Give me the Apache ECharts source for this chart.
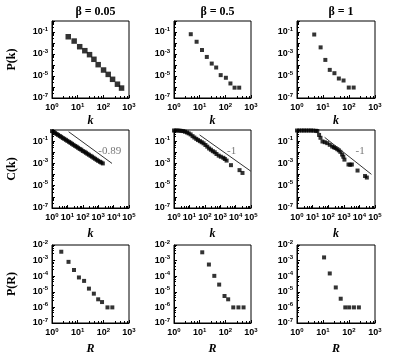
<!DOCTYPE html>
<html>
<head>
<meta charset="utf-8">
<script src="https://cdn.jsdelivr.net/npm/echarts@6/dist/echarts.min.js"></script>
<style>
html, body { margin: 0; padding: 0; background: #fff; }
#main { width: 394px; height: 356px; }
</style>
</head>
<body>
<div id="main"></div>
<script>
// column / row labels
var betaTitles = ['β = 0.05', 'β = 0.5', 'β = 1'];
var rowNames = ['P(k)', 'C(k)', 'P(R)'];
var rowXNames = ['k', 'k', 'R'];
var xTickExps = [[0, 1, 2, 3], [0, 1, 2, 3, 4, 5], [0, 1, 2, 3]];
var yTickExps = [[-7, -5, -3, -1], [-7, -5, -3, -1], [-7, -6, -5, -4, -3, -2]];

// row 1: degree distribution P(k)
var pk005 = [[4.3, 0.037], [7.3, 0.015], [12, 0.0046], [19, 0.002], [29, 0.00087], [43, 0.00033],
  [63, 0.000107], [102, 3.5e-5], [155, 1.4e-5], [229, 5e-6], [355, 1.8e-6], [513, 8e-7]];
var pk05 = [[4.5, 0.063], [7.6, 0.013], [12.3, 0.0023], [19, 0.00054], [29.5, 0.000135], [44, 5.9e-5],
  [66, 1.2e-5], [105, 6.9e-6], [158, 2.1e-6], [229, 8.7e-7], [347, 8.7e-7]];
var pk1 = [[4.6, 0.059], [8.1, 0.004], [12.3, 0.00029], [18.2, 3.6e-5], [27.5, 1.8e-5], [40.7, 5.9e-6],
  [61.7, 3.9e-6], [98, 8.9e-7], [151, 8.9e-7]];

// row 2: clustering C(k)
var ck005 = [[1, 0.8], [1.3, 0.65], [1.6, 0.53], [2, 0.44], [2.5, 0.36], [3.2, 0.29], [4, 0.24], [5, 0.19],
  [6.3, 0.16], [8, 0.13], [10, 0.105], [13, 0.085], [16, 0.07], [20, 0.057], [25, 0.046], [32, 0.037],
  [40, 0.031], [50, 0.025], [63, 0.02], [80, 0.017], [100, 0.013], [130, 0.011], [160, 0.009],
  [200, 0.0073], [250, 0.006], [320, 0.0048], [400, 0.004], [500, 0.0032], [630, 0.0026],
  [800, 0.0021], [1000, 0.0017], [1300, 0.0014], [1600, 0.0012], [2000, 0.001]];
var ck05 = [[1, 0.9], [1.3, 0.9], [1.7, 0.9], [2.3, 0.88], [3, 0.83], [4, 0.8], [5.2, 0.7], [7, 0.6],
  [9, 0.5], [12, 0.4], [16, 0.28], [21, 0.21], [28, 0.16], [36, 0.125], [48, 0.1], [63, 0.08],
  [83, 0.063], [110, 0.045], [145, 0.032], [190, 0.022], [250, 0.017], [330, 0.0126], [440, 0.01],
  [575, 0.007], [800, 0.005], [1100, 0.004], [1600, 0.0032], [2000, 0.0025], [2600, 0.0018],
  [5000, 0.0007], [18000, 0.00025], [28000, 0.00014]];
var ck1 = [[1, 0.9], [1.4, 0.9], [2, 0.9], [2.8, 0.9], [4, 0.9], [5.6, 0.9], [8, 0.9], [11, 0.88],
  [16, 0.85], [20, 0.8], [26, 0.36], [32, 0.2], [43, 0.093], [60, 0.08], [87, 0.066], [126, 0.047],
  [180, 0.033], [235, 0.028], [295, 0.024], [380, 0.019], [480, 0.015], [600, 0.011], [780, 0.0063],
  [930, 0.004], [1100, 0.0022], [2000, 0.0008], [2600, 0.00076], [3300, 0.0008], [7600, 0.00023],
  [23000, 7.4e-5], [30000, 5.4e-5]];

// fitted slopes in the C(k) row
var fit005 = [[12, 0.7], [7900, 0.001]];
var fit05 = [[46, 0.36], [98000, 0.0002]];
var fit1 = [[59, 0.22], [59000, 0.000105]];
var fitLabels = ['-0.89', '-1', '-1'];
var fitLabelPos = [[5600, 0.0126], [5500, 0.012], [11000, 0.012]];

// row 3: P(R)
var pr005 = [[2.3, 0.0037], [4.4, 0.00083], [7.2, 0.00025], [11.2, 8.3e-5], [17.8, 5e-5], [27.5, 1.6e-5],
  [42.7, 7.6e-6], [63, 3.3e-6], [89, 2.2e-6], [145, 1e-6], [224, 1e-6]];
var pr05 = [[12.6, 0.0034], [22.9, 0.00056], [37.2, 0.000105], [57.5, 2.9e-5], [93, 5.4e-6],
  [129, 3.3e-6], [204, 1e-6], [324, 1e-6], [513, 1e-6]];
var pr1 = [[11, 0.0016], [18.2, 0.00015], [31, 1.9e-5], [48, 3.6e-6], [72, 1e-6], [102, 1e-6],
  [155, 1e-6], [240, 1e-6]];

var panelData = [[pk005, pk05, pk1], [ck005, ck05, ck1], [pr005, pr05, pr1]];
var fits = [fit005, fit05, fit1];

var colLeft = [52, 174, 297];
var colWidth = [77, 77, 78];
var rowTop = [21, 130, 245];
var rowHeight = [77, 78, 78];
var xRange = [[1, 1000], [1, 100000], [1, 1000]];
var yRange = [[1e-7, 1], [1e-7, 1], [1e-7, 0.01]];
var xNameGap = [17, 20, 20];

function expLabel(allowed) {
  return function (v) {
    var e = Math.round(Math.log10(v));
    if (allowed.indexOf(e) < 0) return '';
    return '{b|10}{s|' + e + '}';
  };
}
var richTick = {
  b: { fontSize: 9, fontWeight: 'bold', fontFamily: 'Liberation Sans', color: '#000' },
  s: { fontSize: 6, fontWeight: 'bold', fontFamily: 'Liberation Sans', color: '#000', padding: [0, 0, 6, 0] }
};

var grids = [], xAxes = [], yAxes = [], series = [], titles = [];
for (var c = 0; c < 3; c++) {
  titles.push({
    text: betaTitles[c], left: colLeft[c] + colWidth[c] / 2, top: 1, textAlign: 'center',
    textStyle: { fontSize: 12, fontWeight: 'bold', fontFamily: 'Liberation Serif', color: '#000' }
  });
}
for (var r = 0; r < 3; r++) {
  for (c = 0; c < 3; c++) {
    var idx = grids.length;
    grids.push({
      left: colLeft[c], top: rowTop[r], width: colWidth[c], height: rowHeight[r],
      show: true, borderColor: '#000', borderWidth: 1, backgroundColor: 'transparent'
    });
    xAxes.push({
      type: 'log', logBase: 10, gridIndex: idx, min: xRange[r][0], max: xRange[r][1],
      name: rowXNames[r], nameLocation: 'middle', nameGap: xNameGap[r],
      nameTextStyle: { fontSize: 12, fontWeight: 'bold', fontStyle: 'italic', fontFamily: 'Liberation Serif', color: '#000' },
      axisLine: { lineStyle: { color: '#000', width: 1 } },
      axisTick: { inside: true, length: 3, lineStyle: { color: '#000' } },
      minorTick: { show: true, splitNumber: 5, length: 2, lineStyle: { color: '#000' } },
      splitLine: { show: false },
      axisLabel: { margin: 4, formatter: expLabel(xTickExps[r]), rich: richTick, hideOverlap: false }
    });
    yAxes.push({
      type: 'log', logBase: 10, gridIndex: idx, min: yRange[r][0], max: yRange[r][1],
      name: c === 0 ? rowNames[r] : '', nameLocation: 'middle', nameGap: 34, nameRotate: 90,
      nameTextStyle: { fontSize: 12, fontWeight: 'bold', fontFamily: 'Liberation Serif', color: '#000' },
      axisLine: { lineStyle: { color: '#000', width: 1 } },
      axisTick: { inside: true, length: 3, lineStyle: { color: '#000' } },
      minorTick: { show: true, splitNumber: 5, length: 2, lineStyle: { color: '#000' } },
      splitLine: { show: false },
      axisLabel: { margin: 4, formatter: expLabel(yTickExps[r]), rich: richTick }
    });
    series.push({
      type: 'scatter', xAxisIndex: idx, yAxisIndex: idx, data: panelData[r][c],
      symbol: 'rect', symbolSize: (r === 0 && c === 0) ? 5.5 : 4,
      itemStyle: { color: '#000' }, silent: true
    });
    if (r === 1) {
      series.push({
        type: 'line', xAxisIndex: idx, yAxisIndex: idx, data: fits[c],
        showSymbol: false, symbol: 'none', lineStyle: { color: '#333', width: 1 }, silent: true
      });
      series.push({
        type: 'scatter', xAxisIndex: idx, yAxisIndex: idx, data: [fitLabelPos[c]],
        symbolSize: 0, silent: true,
        label: {
          show: true, position: 'inside', formatter: fitLabels[c],
          fontSize: 11, fontFamily: 'Liberation Serif', color: '#555'
        }
      });
    }
  }
}

var chart = echarts.init(document.getElementById('main'));
chart.setOption({
  animation: false,
  title: titles,
  grid: grids,
  xAxis: xAxes,
  yAxis: yAxes,
  series: series
});
</script>
</body>
</html>
